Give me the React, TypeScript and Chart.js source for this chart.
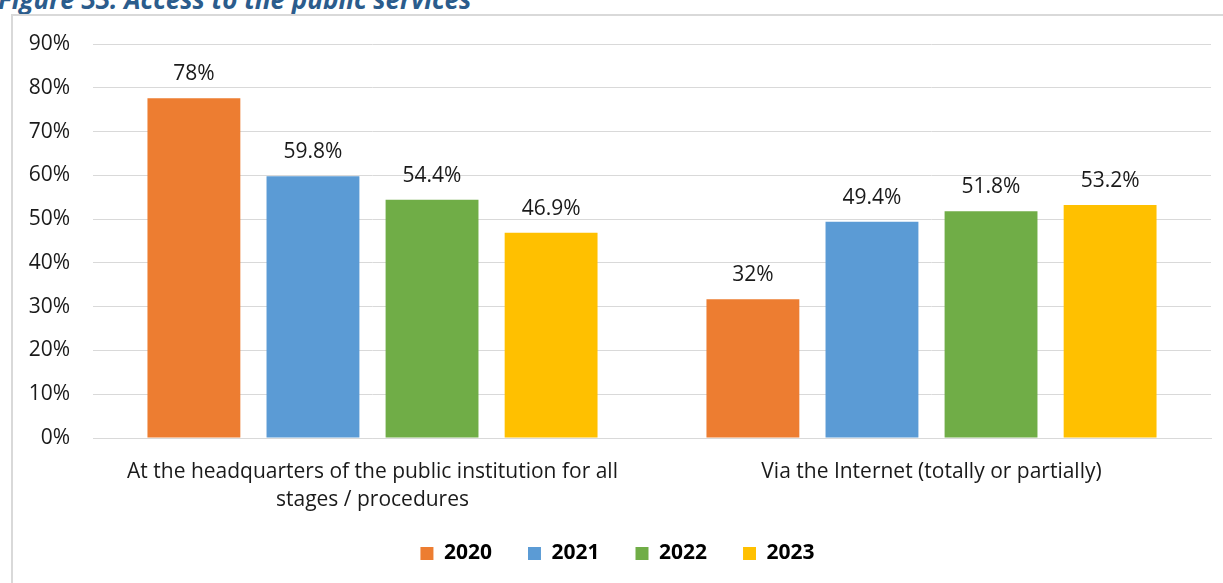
import React, { useEffect, useRef } from "react";
import { Chart, registerables } from "chart.js";
Chart.register(...registerables);

const categories = [
  ["At the headquarters of the public institution for all", "stages / procedures"],
  ["Via the Internet (totally or partially)"],
];
const seriesNames = ["2020", "2021", "2022", "2023"];
const values2020 = [77.6, 31.7];
const values2021 = [59.8, 49.4];
const values2022 = [54.4, 51.8];
const values2023 = [46.9, 53.2];
const labels2020 = ["78%", "32%"];
const labels2021 = ["59.8%", "49.4%"];
const labels2022 = ["54.4%", "51.8%"];
const labels2023 = ["46.9%", "53.2%"];
const colors = ["#ED7D31", "#5B9BD5", "#70AD47", "#FFC000"];
const yMin = 0;
const yMax = 90;
const yStep = 10;

const FONT = "'Open Sans', Lato, sans-serif";
const FS = 21;

const dataLabelPlugin = {
  id: "dataLabels",
  beforeDraw(chart: any) {
    // let multi-line category labels extend past the axis box
    if (chart.scales.x) chart.scales.x._computeLabelArea = () => undefined;
  },
  afterDatasetsDraw(chart: any) {
    const ctx = chart.ctx;
    ctx.save();
    ctx.font = `${FS}px ${FONT}`;
    ctx.fillStyle = "#1a1a1a";
    ctx.textAlign = "center";
    ctx.textBaseline = "alphabetic";
    chart.data.datasets.forEach((ds: any, i: number) => {
      const meta = chart.getDatasetMeta(i);
      meta.data.forEach((bar: any, j: number) => {
        ctx.fillText(ds.valueLabels[j], bar.x, bar.y - 18);
      });
    });
    ctx.restore();
  },
};

export default function App() {
  const ref = useRef<HTMLCanvasElement>(null);
  useEffect(() => {
    const valueSets = [values2020, values2021, values2022, values2023];
    const labelSets = [labels2020, labels2021, labels2022, labels2023];
    const chart = new Chart(ref.current!, {
      type: "bar",
      data: {
        labels: categories as any,
        datasets: seriesNames.map((name, i) => ({
          label: name,
          data: valueSets[i],
          valueLabels: labelSets[i],
          backgroundColor: colors[i],
          borderWidth: 0,
          categoryPercentage: 0.852,
          barPercentage: 0.78,
        })) as any,
      },
      options: {
        responsive: false,
        animation: false,
        layout: { padding: { left: 24, right: 12, top: 44, bottom: 9 } },
        plugins: {
          tooltip: { enabled: false },
          legend: {
            position: "bottom",
            labels: {
              boxWidth: 13,
              boxHeight: 13,
              padding: 36,
              color: "#000",
              font: { family: FONT, size: FS, weight: "bold" },
            },
          },
        },
        scales: {
          y: {
            min: yMin,
            max: yMax,
            ticks: {
              stepSize: yStep,
              padding: 23,
              color: "#1a1a1a",
              font: { family: FONT, size: FS },
              callback: (v: any) => `${v}%`,
            },
            grid: { color: "#d9d9d9", lineWidth: 1, drawTicks: false },
            border: { display: false },
            afterFit: (s: any) => {
              s.width = 69;
            },
          },
          x: {
            ticks: {
              padding: 20,
              color: "#1a1a1a",
              font: { family: FONT, size: FS, lineHeight: 1.33 },
              maxRotation: 0,
              autoSkip: false,
            },
            grid: { display: false, drawTicks: false },
            border: { display: true, color: "#d9d9d9", width: 1 },
            afterFit: (s: any) => {
              s.height = 69;
            },
          },
        },
      },
      plugins: [dataLabelPlugin],
    });
    return () => chart.destroy();
  }, []);

  return (
    <div
      style={{
        position: "absolute",
        left: 0,
        top: 0,
        width: 1223,
        height: 583,
        overflow: "hidden",
        background: "#fff",
      }}
    >
      <div
        style={{
          position: "absolute",
          left: -2,
          top: -15,
          fontFamily: FONT,
          fontWeight: 700,
          fontStyle: "italic",
          fontSize: 26,
          lineHeight: "28px",
          color: "#2B5C8C",
          whiteSpace: "nowrap",
        }}
      >
        Figure 33: Access to the public services
      </div>
      <div
        style={{
          position: "absolute",
          left: 11,
          top: 14,
          width: 1400,
          height: 800,
          border: "2px solid #d9d9d9",
        }}
      />
      <canvas
        ref={ref}
        width={1223}
        height={583}
        style={{ position: "absolute", left: 0, top: 0, width: 1223, height: 583 }}
      />
    </div>
  );
}
